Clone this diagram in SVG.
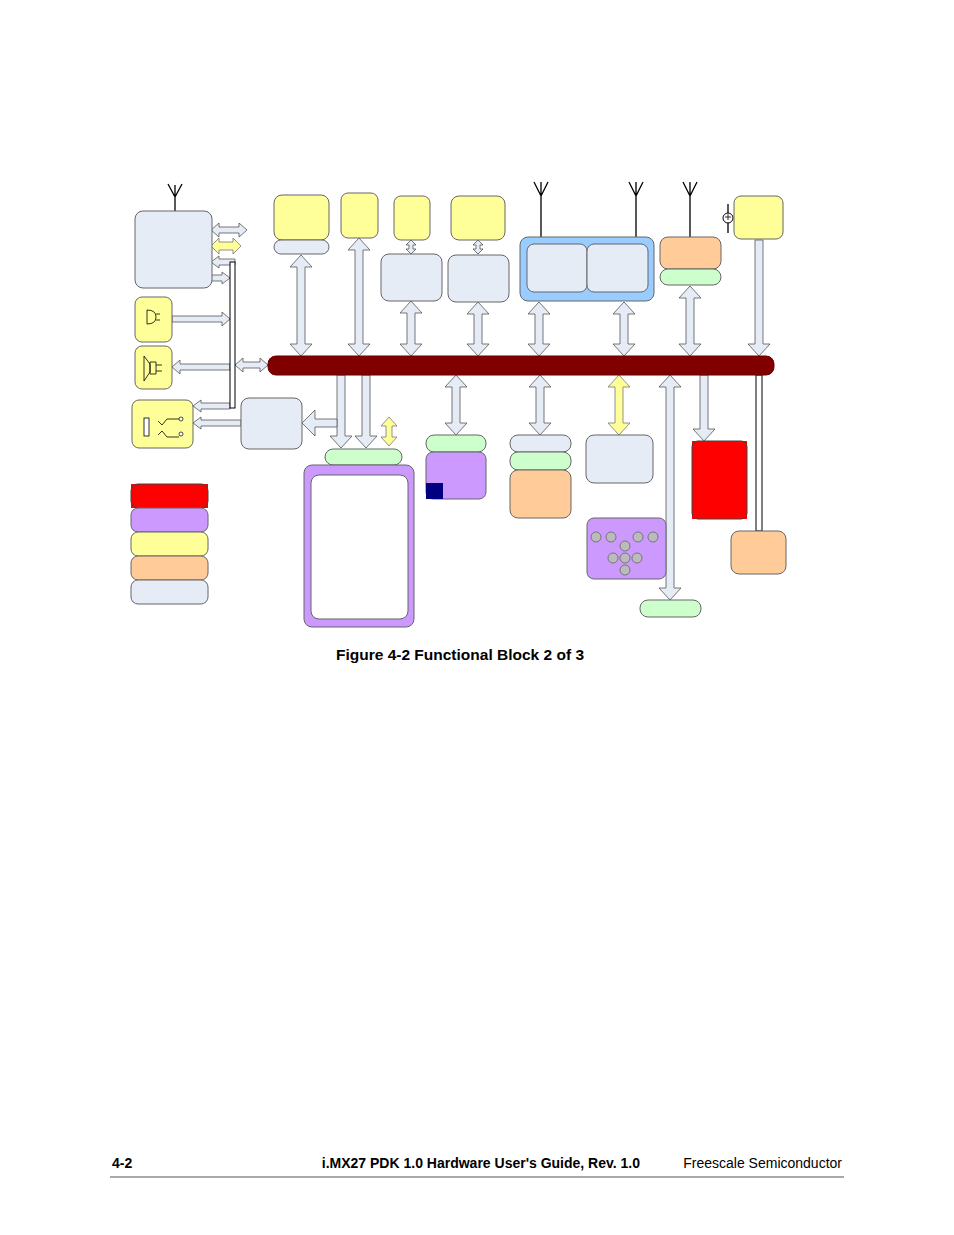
<svg xmlns="http://www.w3.org/2000/svg" width="954" height="1235" viewBox="0 0 954 1235">
<style>
.lb{fill:#e6ecf6;stroke:#666;stroke-width:1}
.ye{fill:#ffff99;stroke:#666;stroke-width:1}
.gr{fill:#ccffcc;stroke:#666;stroke-width:1}
.or{fill:#ffcc99;stroke:#666;stroke-width:1}
.pu{fill:#cc99ff;stroke:#666;stroke-width:1}
.rd{fill:#ff0000;stroke:#444;stroke-width:1}
.ar{fill:#e6ecf6;stroke:#555;stroke-width:0.8}
.ay{fill:#ffff99;stroke:#777;stroke-width:0.8}
.ln{stroke:#000;stroke-width:1.3;fill:none}
.t{font-family:"Liberation Sans",Arial,sans-serif;fill:#000}
</style>
<rect width="954" height="1235" fill="#fff"/>
<g id="connectors">
<polygon class="ar" points="301,255 312,267 305,267 305,344 312,344 301,356 290,344 297,344 297,267 290,267"/>
<polygon class="ar" points="359,238 370,250 363,250 363,344 370,344 359,356 348,344 355,344 355,250 348,250"/>
<polygon class="ar" points="411,301 422,313 415,313 415,344 422,344 411,356 400,344 407,344 407,313 400,313"/>
<polygon class="ar" points="478,302 489,314 482,314 482,344 489,344 478,356 467,344 474,344 474,314 467,314"/>
<polygon class="ar" points="539,302 550,314 543,314 543,344 550,344 539,356 528,344 535,344 535,314 528,314"/>
<polygon class="ar" points="624,302 635,314 628,314 628,344 635,344 624,356 613,344 620,344 620,314 613,314"/>
<polygon class="ar" points="690,286 701,298 694,298 694,344 701,344 690,356 679,344 686,344 686,298 679,298"/>
<polygon class="ar" points="755,240 763,240 763,344 770,344 759,356 748,344 755,344"/>
<polygon class="ar" points="411,240 416,245 413,245 413,249 416,249 411,254 406,249 409,249 409,245 406,245"/>
<polygon class="ar" points="478,240 483,245 480,245 480,249 483,249 478,254 473,249 476,249 476,245 473,245"/>
<polygon class="ar" points="211,230 219,223 219,227 239,227 239,223 247,230 239,237 239,233 219,233 219,237"/>
<polygon class="ay" points="211,246 219,238 219,242 233,242 233,238 241,246 233,254 233,250 219,250 219,254"/>
<polygon class="ar" points="211,262 219,256 219,259 235,259 235,265 219,265 219,268"/>
<polygon class="ar" points="211,275 222,275 222,272 230,278 222,284 222,281 211,281"/>
<polygon class="ar" points="172,316 222,316 222,312 230,319 222,326 222,322 172,322"/>
<polygon class="ar" points="172,367 180,360 180,364 230,364 230,370 180,370 180,374"/>
<polygon class="ar" points="235,365 243,358 243,362 260,362 260,358 268,365 260,372 260,368 243,368 243,372"/>
<polygon class="ar" points="193,406 201,400 201,403 230,403 230,409 201,409 201,412"/>
<polygon class="ar" points="193,423 201,417 201,420 241,420 241,426 201,426 201,429"/>
<rect x="230" y="262" width="5" height="146" fill="#fff" stroke="#000" stroke-width="1"/>
<polygon class="ar" points="337,375 345,375 345,436 352,436 341,448 330,436 337,436"/>
<polygon class="ar" points="362,375 370,375 370,436 377,436 366,448 355,436 362,436"/>
<polygon class="ar" points="302,423 315,410 315,419 337,419 337,427 315,427 315,436"/>
<polygon class="ay" points="389,417 397,426 392,426 392,437 397,437 389,446 381,437 386,437 386,426 381,426"/>
<polygon class="ar" points="456,375 467,387 460,387 460,423 467,423 456,435 445,423 452,423 452,387 445,387"/>
<polygon class="ar" points="540,375 551,387 544,387 544,423 551,423 540,435 529,423 536,423 536,387 529,387"/>
<polygon class="ay" points="619,375 630,387 623,387 623,423 630,423 619,435 608,423 615,423 615,387 608,387"/>
<polygon class="ar" points="670,375 681,387 674,387 674,588 681,588 670,600 659,588 666,588 666,387 659,387"/>
<polygon class="ar" points="700,375 708,375 708,429 715,429 704,441 693,429 700,429"/>
<rect x="756" y="375" width="6" height="156" fill="#fff" stroke="#000" stroke-width="1"/>
<path class="ln" d="M175,211V185M175,197L168,184M175,197L182,184"/>
<path class="ln" d="M541,237V182M541,196L534,182M541,196L548,182"/>
<path class="ln" d="M636,237V182M636,196L629,182M636,196L643,182"/>
<path class="ln" d="M690,237V182M690,196L683,182M690,196L697,182"/>
<path class="ln" d="M728,204V213M728,223V233" />
<circle cx="728" cy="218" r="5" fill="#fff" stroke="#000" stroke-width="1"/>
<path d="M725,217H731M728,214V220" stroke="#000" stroke-width="0.8"/>
</g>
<g id="bus"><rect x="268" y="356" width="506" height="19" rx="8" fill="#800000" stroke="#600" stroke-width="1"/></g>
<g id="n_radio"><rect class="lb" x="135" y="211" width="77" height="77" rx="8"/></g>
<g id="n_mic"><rect class="ye" x="135" y="297" width="37" height="45" rx="7"/>
<path d="M147,310V324Q156,324 156,317Q156,310 147,310Z M156,314H160M156,320H160" fill="none" stroke="#000" stroke-width="0.8"/></g>
<g id="n_spk"><rect class="ye" x="135" y="346" width="37" height="43" rx="7"/>
<path d="M144,356V381L150,372V364Z M150,362H156V374H150Z M156,365H162M156,371H162" fill="none" stroke="#000" stroke-width="0.8"/></g>
<g id="n_jack"><rect class="ye" x="132" y="400" width="61" height="48" rx="7"/>
<rect x="144" y="418" width="5" height="18" fill="#fff" stroke="#000" stroke-width="0.8"/>
<path d="M158,421L162,425L167,419H179M158,435L162,431L167,437H179" fill="none" stroke="#000" stroke-width="0.8"/>
<circle cx="181" cy="419" r="2" fill="#fff" stroke="#000" stroke-width="0.7"/><circle cx="181" cy="434" r="2" fill="#fff" stroke="#000" stroke-width="0.7"/></g>
<g id="n_audio"><rect class="lb" x="241" y="398" width="61" height="51" rx="8"/></g>
<g id="n_t1"><rect class="ye" x="274" y="195" width="55" height="45" rx="8"/><rect class="lb" x="274" y="240" width="55" height="14" rx="7"/></g>
<g id="n_t2"><rect class="ye" x="341" y="193" width="37" height="45" rx="7"/></g>
<g id="n_t3"><rect class="ye" x="394" y="196" width="36" height="44" rx="7"/><rect class="lb" x="381" y="254" width="61" height="47" rx="8"/></g>
<g id="n_t4"><rect class="ye" x="451" y="196" width="54" height="44" rx="8"/><rect class="lb" x="448" y="255" width="61" height="47" rx="8"/></g>
<g id="n_wl"><rect x="520" y="237" width="134" height="64" rx="8" fill="#99ccff" stroke="#666"/>
<rect class="lb" x="527" y="244" width="60" height="48" rx="7"/><rect class="lb" x="587" y="244" width="61" height="48" rx="7"/></g>
<g id="n_gps"><rect class="or" x="660" y="237" width="61" height="32" rx="8"/><rect class="gr" x="660" y="269" width="61" height="16" rx="8"/></g>
<g id="n_pwr"><rect class="ye" x="734" y="196" width="49" height="43" rx="7"/></g>
<g id="n_mem"><rect class="gr" x="325" y="449" width="77" height="16" rx="8"/>
<rect class="pu" x="304" y="465" width="110" height="162" rx="8"/><rect x="311" y="475" width="97" height="144" rx="8" fill="#fff" stroke="#666"/></g>
<g id="n_b1"><rect class="gr" x="426" y="435" width="60" height="17" rx="8"/><rect class="pu" x="426" y="452" width="60" height="47" rx="7"/><rect x="426" y="483" width="17" height="16" fill="#000080"/></g>
<g id="n_b2"><rect class="lb" x="510" y="435" width="61" height="17" rx="8"/><rect class="gr" x="510" y="452" width="61" height="18" rx="8"/><rect class="or" x="510" y="470" width="61" height="48" rx="8"/></g>
<g id="n_b3"><rect class="lb" x="586" y="435" width="67" height="48" rx="8"/></g>
<g id="n_red"><rect x="692" y="441" width="55" height="78" fill="#ff0000"/><rect class="rd" x="692" y="441" width="55" height="78" rx="6"/></g>
<g id="n_b5"><rect class="or" x="731" y="531" width="55" height="43" rx="8"/></g>
<g id="n_kp"><rect class="pu" x="587" y="518" width="79" height="61" rx="7"/>
<g fill="#bbbbbb" stroke="#666" stroke-width="0.8">
<circle cx="596" cy="537" r="5"/><circle cx="611" cy="537" r="5"/><circle cx="638" cy="537" r="5"/><circle cx="653" cy="537" r="5"/>
<circle cx="625" cy="546" r="5"/><circle cx="613" cy="558" r="5"/><circle cx="625" cy="558" r="5"/><circle cx="637" cy="558" r="5"/><circle cx="625" cy="570" r="5"/></g></g>
<g id="n_usb"><rect class="gr" x="640" y="600" width="61" height="17" rx="8"/></g>
<g id="legend">
<rect x="131" y="484" width="77" height="24" fill="#ff0000"/><rect class="rd" x="131" y="484" width="77" height="24" rx="7"/>
<rect class="pu" x="131" y="508" width="77" height="24" rx="7"/>
<rect class="ye" x="131" y="532" width="77" height="24" rx="7"/>
<rect class="or" x="131" y="556" width="77" height="24" rx="7"/>
<rect class="lb" x="131" y="580" width="77" height="24" rx="7"/>
</g>
<text class="t" x="460" y="660" font-size="15.5" font-weight="bold" text-anchor="middle">Figure 4-2 Functional Block 2 of 3</text>
<line x1="110" y1="1177" x2="844" y2="1177" stroke="#555" stroke-width="1.2"/>
<text class="t" x="112" y="1168" font-size="14" font-weight="bold">4-2</text>
<text class="t" x="640" y="1168" font-size="14" font-weight="bold" text-anchor="end">i.MX27 PDK 1.0 Hardware User's Guide, Rev. 1.0</text>
<text class="t" x="842" y="1168" font-size="14" text-anchor="end">Freescale Semiconductor</text>
</svg>
